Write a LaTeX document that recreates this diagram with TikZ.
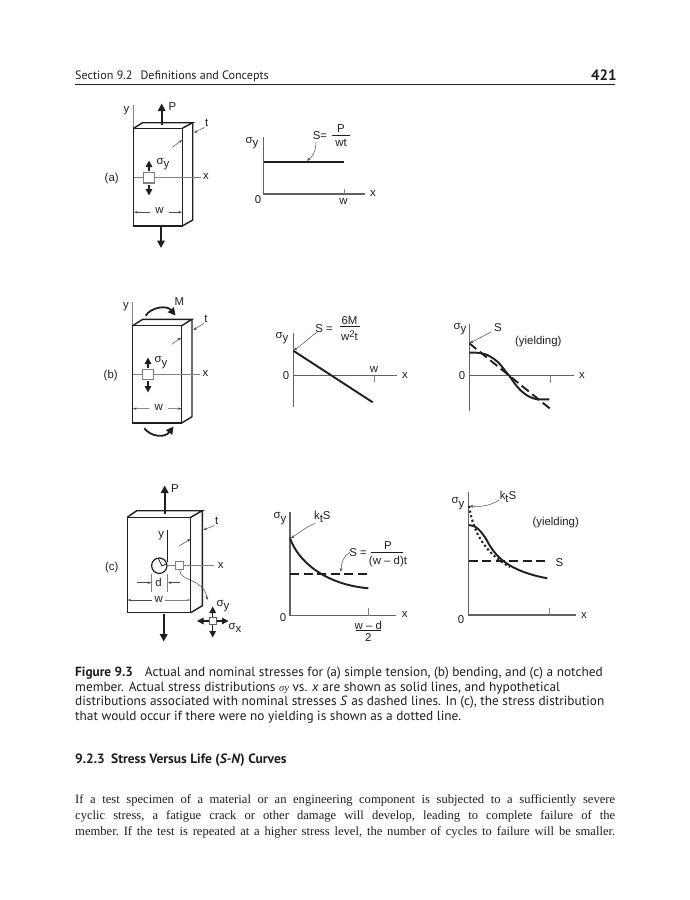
\documentclass[tikz,border=0pt]{standalone}
\usepackage{fontspec}
\setmainfont{Liberation Sans}
\newfontfamily\capfont{PT Sans}
\newfontfamily\bodyfont{Liberation Serif}
\usetikzlibrary{arrows.meta}
\definecolor{ink}{gray}{0.12}
\definecolor{thin}{gray}{0.5}
\newcommand{\sgy}{{\fontsize{11.5}{11.5}\selectfont σ}\raisebox{-3.5pt}{y}}
\newcommand{\sgx}{{\fontsize{11.5}{11.5}\selectfont σ}\raisebox{-3.5pt}{x}}
\newcommand{\ksub}{k\raisebox{-3pt}{t}S}
\tikzset{
 x=1pt,y=-1pt,
 lab/.style={inner sep=0pt,text=ink,font=\fontsize{11.4}{13}\selectfont},
 hdr/.style={inner sep=0pt,anchor=base west,text=ink,font=\capfont\fontsize{12.1}{14}\selectfont},
 capt/.style={inner sep=0pt,anchor=base west,text=ink,font=\capfont\fontsize{13.3}{15}\selectfont},
 bod/.style={inner sep=0pt,anchor=base west,text=ink,font=\bodyfont\frenchspacing\fontsize{12.6}{14}\selectfont},
 body3d/.style={draw=ink,line width=1.4pt,line join=miter},
 grayline/.style={draw=thin,line width=0.9pt},
 axis/.style={draw=ink!70!white,line width=1.1pt},
 curve/.style={draw=ink,line width=1.9pt},
 dashcurve/.style={draw=ink,line width=1.9pt,dash pattern=on 9pt off 4.5pt},
 dotcurve/.style={draw=ink,line width=2.1pt,dash pattern=on 2.1pt off 2.6pt},
 force/.style={draw=ink,line width=1.8pt,-{Triangle[length=7.5pt,width=7.5pt]}},
 stress/.style={draw=ink,line width=1.5pt,-{Triangle[length=6.5pt,width=6.5pt]}},
 leader/.style={draw=ink!80!white,line width=0.5pt,-{Stealth[length=3.6pt,width=2.8pt]}},
 dim/.style={draw=ink!80!white,line width=0.5pt,-{Stealth[length=3.6pt,width=2.6pt]}},
 elem/.style={draw=thin,line width=1.1pt,fill=white,inner sep=0pt,minimum size=#1},
 barline/.style={draw=ink,line width=0.7pt},
}
\begin{document}
\begin{tikzpicture}
\useasboundingbox[fill=white] (0,0) rectangle (690,900);

% page header
\node[hdr] (sec) at (75,79) {Section 9.2\hspace{8pt}Definitions and Concepts};
\node[hdr,font=\capfont\bfseries\fontsize{15}{16}\selectfont] (pg) at (591,80) {421};
\draw[draw=ink,line width=0.8pt] (75,84.3) -- (615,84.3);

% ---------- (a) member
\draw[grayline,line width=0.5pt] (133.5,105) -- (133.5,128);
\draw[body3d] (133.5,128.3) rectangle (182.3,226);
\draw[body3d] (133.5,128.3) -- (142.7,122.7) -- (192.7,122.7) -- (182.3,128.3);
\draw[body3d] (192.7,122.7) -- (192.7,220) -- (182.3,226);
\draw[grayline] (133.5,177.7) -- (201,177.7);
\node[elem=10.5pt] (ea) at (149,177.7) {};
\draw[stress] (ea.north)++(0,-1) -- (149,160.5);
\draw[stress] (ea.south)++(0,1) -- (149,195.5);
\draw[force] (161.7,125) -- (161.7,103.5);
\draw[force] (161,226.5) -- (161,248);
\node[lab] (ya) at (126.5,111) {y};
\node[lab] (Pa) at (172.5,107) {P};
\node[lab] (ta) at (206.7,123) {t};
\node[lab] (xa) at (206,176.5) {x};
\node[lab] (sa) at (163,164) {\sgy};
\node[lab] (la) at (111.7,179) {(a)};
\node[lab] (wa) at (159.5,210.7) {w};
\draw[dim] (wa.west)++(-5,1.5) -- (134,212.2);
\draw[dim] (wa.east)++(5,1.5) -- (182,212.2);
\draw[leader] (ta.south west)++(-0.5,0.5) -- (194,132.7);
\draw[leader] (172.3,147.3) -- (182,140);

% (a) plot
\draw[axis] (263.7,137.3) -- (263.7,194) -- (365,194);
\draw[grayline,line width=0.6pt] (344,188.5) -- (344,194);
\draw[curve] (263.7,161.7) -- (344,161.7);
\node[lab] (sp1) at (252,143) {\sgy};
\node[lab] (z1) at (258,199.5) {0};
\node[lab] (w1) at (343.5,201.5) {w};
\node[lab] (x1) at (373,193.5) {x};
\node[lab] (S1) at (320,136) {S=};
\node[lab] (P1) at (341,128.5) {P};
\node[lab] (wt1) at (341,143) {wt};
\draw[barline] (332,135.7) -- (350,135.7);
\draw[leader] (316,142) .. controls (316,152) and (312,157) .. (307,160.7);

% ---------- (b) member
\draw[grayline,line width=0.5pt] (132.7,302) -- (132.7,325);
\draw[body3d] (132.7,325.7) rectangle (181.7,423);
\draw[body3d] (132.7,325.7) -- (142.7,319.3) -- (192,319.3) -- (181.7,325.7);
\draw[body3d] (192,319.3) -- (192,416.7) -- (181.7,423);
\draw[grayline] (133,374.3) -- (200,374.3);
\node[elem=10.5pt] (eb) at (148,374.3) {};
\draw[stress] (eb.north)++(0,-1) -- (148,357.5);
\draw[stress] (eb.south)++(0,1) -- (148,392.5);
\draw[force] (145.7,315.7) .. controls (151,307) and (167,305) .. (175.5,315.5);
\draw[force] (144.3,428.3) .. controls (151,437) and (165,438) .. (173.5,426.5);
\node[lab] (yb) at (126,306.7) {y};
\node[lab] (Mb) at (179.3,302) {M};
\node[lab] (tb) at (206,319) {t};
\node[lab] (xb) at (205.5,373.5) {x};
\node[lab] (sb) at (161,362.5) {\sgy};
\node[lab] (lb) at (110.7,376) {(b)};
\node[lab] (wb) at (158.7,407) {w};
\draw[dim] (wb.west)++(-5,1.5) -- (133,408.7);
\draw[dim] (wb.east)++(5,1.5) -- (181.5,408.7);
\draw[leader] (tb.south west)++(-0.5,0.5) -- (193.3,330);
\draw[leader] (171.7,344.3) -- (181,337.7);

% (b) plot 1
\draw[axis] (293.3,333) -- (293.3,407.3);
\draw[axis] (293.3,375.7) -- (397.3,375.7);
\draw[grayline,line width=0.6pt] (374,375.7) -- (374,382);
\draw[curve] (293.3,350.7) -- (372.7,402.3);
\node[lab] (sp2) at (282,338) {\sgy};
\node[lab] (z2) at (286,376) {0};
\node[lab] (w2) at (374,369) {w};
\node[lab] (x2) at (405,375.5) {x};
\node[lab] (S2) at (324,329) {S =};
\node[lab] (M2) at (349.5,320.5) {6M};
\node[lab] (wt2) at (349.5,335.5) {w\raisebox{3.5pt}{\fontsize{9.5}{9.5}\selectfont 2}t};
\draw[barline] (340,326.3) -- (360,326.3);
\draw[leader] (317.7,331.7) .. controls (310,337) and (303,344) .. (293.8,350.3);

% (b) plot 2
\draw[axis] (469.3,324) -- (469.3,410.7);
\draw[axis] (469.3,375.7) -- (574,375.7);
\draw[grayline,line width=0.6pt] (550.7,375.7) -- (550.7,383);
\draw[dashcurve] (469.3,343.3) -- (551.7,410);
\draw[curve] (469.3,352.7) .. controls (478,352.5) and (484,352.5) .. (491,357)
  .. controls (501,363) and (503,369) .. (509.3,375.7)
  .. controls (516,386) and (524,397) .. (537,399.3) -- (549.3,399.3);
\node[lab] (sp3) at (460,329) {\sgy};
\node[lab] (z3) at (462,376) {0};
\node[lab] (x3) at (582,375.5) {x};
\node[lab] (S3) at (498,328) {S};
\node[lab] (yl1) at (538.3,341.7) {(yielding)};
\draw[leader] (491.7,331.7) -- (469.8,343);

% ---------- (c) member
\draw[body3d] (127.3,517.3) rectangle (190.7,612.7);
\draw[body3d] (127.3,517.3) -- (136.7,510.7) -- (202.3,510.7) -- (190.7,517.3);
\draw[body3d] (202.3,510.7) -- (202.3,605.7) -- (190.7,612.7);
\draw[draw=ink,line width=0.7pt] (167.3,530) -- (167.3,562);
\draw[draw=ink,line width=1.2pt] (159.3,565.7) circle (7.7);
\draw[draw=ink,line width=0.8pt] (158,558) -- (162,566) -- (167,563.5);
\draw[grayline] (167.5,565.7) -- (176,565.7);
\draw[grayline] (184,565.7) -- (214,565.7);
\node[elem=8pt] (ec) at (179.7,565.7) {};
\draw[force] (164.7,514.3) -- (164.7,485.5);
\draw[force] (163.7,614.3) -- (163.7,641.5);
\draw[grayline,line width=0.5pt] (151.6,574) -- (151.6,592);
\draw[grayline,line width=0.5pt] (167.6,574) -- (167.6,592);
\node[lab] (Pc) at (175,489) {P};
\node[lab] (yc) at (161.3,536) {y};
\node[lab] (tc) at (216.7,521) {t};
\node[lab] (xc) at (220.7,565.5) {x};
\node[lab] (lc) at (111.7,567.3) {(c)};
\node[lab] (dc) at (158.6,582.3) {d};
\node[lab] (wc) at (158.7,599) {w};
\draw[dim] (137.3,582.7) -- (151.3,582.7);
\draw[dim] (180,582.7) -- (167.9,582.7);
\draw[dim] (wc.west)++(-2,1) -- (127.6,600);
\draw[dim,draw=thin,line width=0.7pt] (wc.east)++(2,1) -- (190.4,600);
\draw[leader] (tc.south west)++(-0.5,0.5) -- (203.3,530);
\draw[leader] (179,546) -- (190.5,539);
\draw[leader] (ec.south) .. controls (180,582) and (204,578) .. (207.3,600);
\node[elem=7pt,draw=ink!70!white] (es) at (212.7,621) {};
\draw[stress,line width=1.3pt] (es.north) -- (212.7,606.5);
\draw[stress,line width=1.3pt] (es.south) -- (212.7,637.5);
\draw[stress,line width=1.3pt] (es.west) -- (197,621);
\draw[stress,line width=1.3pt] (es.east) -- (228.5,621);
\node[lab] (sc) at (223,606) {\sgy};
\node[lab] (sxc) at (235,628) {\sgx};

% (c) plot 1
\draw[axis] (290,512.3) -- (290,615.7) -- (395.7,615.7);
\draw[grayline,line width=0.6pt] (368.3,608.3) -- (368.3,615.7);
\draw[curve] (290,538) .. controls (297,559) and (322,584) .. (368.3,588.3);
\draw[dashcurve] (290,574) -- (366.7,574);
\node[lab] (sp4) at (280,518.5) {\sgy};
\node[lab] (z4) at (283,618) {0};
\node[lab] (x4) at (404.7,614.5) {x};
\node[lab] (k4) at (322.3,516.5) {\ksub};
\node[lab] (S4) at (358,553) {S =};
\node[lab] (P4) at (388,546) {P};
\node[lab] (wd4) at (388,562) {(w -- d)t};
\draw[barline] (371,552) -- (403,552);
\node[lab] (wn4) at (368.3,625) {w -- d};
\node[lab] (two4) at (368.3,637.5) {2};
\draw[barline] (356,630.7) -- (381,630.7);
\draw[leader] (315,523.3) .. controls (306,527) and (299,533) .. (291,538);
\draw[leader] (350,552.3) .. controls (344,555) and (341,563) .. (341,571.7);

% (c) plot 2
\draw[axis] (468.7,492.3) -- (468.7,615) -- (575.7,615);
\draw[grayline,line width=0.6pt] (549.3,608) -- (549.3,615);
\draw[dotcurve] (469,506) .. controls (473,530) and (483,552) .. (510,567);
\draw[dashcurve] (468.7,561) -- (546,561);
\draw[curve] (468.7,525) .. controls (476,525) and (481,531) .. (486.7,540)
  .. controls (491,549) and (498,557) .. (503.3,561)
  .. controls (515,570) and (530,575) .. (547.3,578.3);
\node[lab] (sp5) at (458,503.5) {\sgy};
\node[lab] (z5) at (461,620) {0};
\node[lab] (x5) at (584,615) {x};
\node[lab] (k5) at (508,496.5) {\ksub};
\node[lab] (S5) at (559.5,563) {S};
\node[lab] (yl2) at (555.7,522.3) {(yielding)};
\draw[leader] (499.3,500) .. controls (490,506) and (480,507) .. (469.5,506);

% ---------- caption
\node[capt] (c1) at (75,676) {\textbf{Figure 9.3}\hspace{12pt}Actual and nominal stresses for (a) simple tension, (b) bending, and (c) a notched};
\node[capt] (c2) at (75,691) {member. Actual stress distributions {\bodyfont\itshape\fontsize{10.5}{11}\selectfont σy} vs. \textit{x} are shown as solid lines, and hypothetical};
\node[capt] (c3) at (75,705.5) {distributions associated with nominal stresses \textit{S} as dashed lines. In (c), the stress distribution};
\node[capt] (c4) at (75,720.5) {that would occur if there were no yielding is shown as a dotted line.};

\node[capt,font=\capfont\bfseries\fontsize{13.5}{15}\selectfont] (h1) at (75,763) {9.2.3\hspace{3pt} Stress Versus Life (\textit{S-N}) Curves};

\node[bod] (b1) at (75,803) {\makebox[540pt][s]{If a test specimen of a material or an engineering component is subjected to a sufficiently severe}};
\node[bod] (b2) at (75,819) {\makebox[540pt][s]{cyclic stress, a fatigue crack or other damage will develop, leading to complete failure of the}};
\node[bod] (b3) at (75,835) {\makebox[540pt][s]{member. If the test is repeated at a higher stress level, the number of cycles to failure will be smaller.}};
\end{tikzpicture}
\end{document}
